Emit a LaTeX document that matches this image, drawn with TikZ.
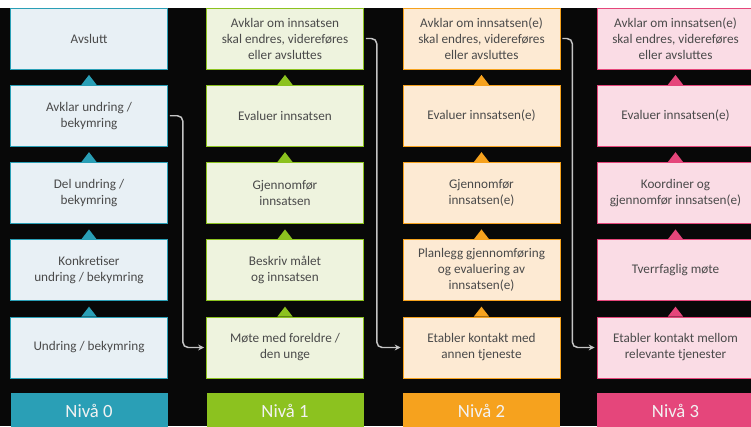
\documentclass[tikz,border=0pt]{standalone}
\usepackage{fontspec}
\setmainfont{Carlito}
\usetikzlibrary{arrows.meta}
\definecolor{colA}{HTML}{2A9FB6}
\definecolor{colB}{HTML}{8CC21F}
\definecolor{colC}{HTML}{F6A21E}
\definecolor{colD}{HTML}{E5467B}
\definecolor{fillA}{HTML}{E8F0F5}
\definecolor{fillB}{HTML}{EEF3DE}
\definecolor{fillC}{HTML}{FDEAD3}
\definecolor{fillD}{HTML}{FADCE5}
\definecolor{txt}{HTML}{4A4A4A}
\definecolor{linkc}{HTML}{C4C4C4}
\definecolor{bg}{HTML}{080808}
\begin{document}
\begin{tikzpicture}[x=0.75pt,y=-0.75pt,
  box/.style={rectangle, inner sep=1pt, minimum width=117.75pt, minimum height=45.75pt,
    align=center, text=txt, font=\fontsize{9.9}{12}\selectfont, line width=0.5pt},
  cellA/.style={box, fill=fillA, draw=colA},
  cellB/.style={box, fill=fillB, draw=colB},
  cellC/.style={box, fill=fillC, draw=colC},
  cellD/.style={box, fill=fillD, draw=colD},
  lbl/.style={rectangle, inner sep=0pt, minimum width=117.75pt, minimum height=26.25pt,
    font=\fontsize{14}{16}\selectfont, text=white!90!gray},
  link/.style={draw=linkc, line width=1.1pt, rounded corners=4pt, shorten >=1.5pt, shorten <=1.5pt,
    -{Stealth[length=4.5pt,width=4.5pt]}}
]
\useasboundingbox (0,0) rectangle (751,426);
\fill[white] (0,0) rectangle (751,426);
\fill[bg] (0,8) rectangle (751,426);

% column 0
\node[cellA] (c0r1) at (89,38.5) {Avslutt};
\node[cellA] (c0r2) at (89,115.75) {Avklar undring /\\bekymring};
\node[cellA] (c0r3) at (89,193) {Del undring /\\bekymring};
\node[cellA] (c0r4) at (89,270.25) {Konkretiser\\undring / bekymring};
\node[cellA] (c0r5) at (89,347.5) {Undring / bekymring};
\node[lbl, fill=colA] (l0) at (89,410.5) {Nivå 0};

% column 1
\node[cellB] (c1r1) at (285,38.5) {Avklar om innsatsen\\skal endres, videreføres\\eller avsluttes};
\node[cellB] (c1r2) at (285,115.75) {Evaluer innsatsen};
\node[cellB] (c1r3) at (285,193) {Gjennomfør\\innsatsen};
\node[cellB] (c1r4) at (285,270.25) {Beskriv målet\\og innsatsen};
\node[cellB] (c1r5) at (285,347.5) {Møte med foreldre /\\den unge};
\node[lbl, fill=colB] (l1) at (285,410.5) {Nivå 1};

% column 2
\node[cellC] (c2r1) at (481.5,38.5) {Avklar om innsatsen(e)\\skal endres, videreføres\\eller avsluttes};
\node[cellC] (c2r2) at (481.5,115.75) {Evaluer innsatsen(e)};
\node[cellC] (c2r3) at (481.5,193) {Gjennomfør\\innsatsen(e)};
\node[cellC] (c2r4) at (481.5,270.25) {Planlegg gjennomføring\\og evaluering av\\innsatsen(e)};
\node[cellC] (c2r5) at (481.5,347.5) {Etabler kontakt med\\annen tjeneste};
\node[lbl, fill=colC] (l2) at (481.5,410.5) {Nivå 2};

% column 3
\node[cellD] (c3r1) at (675.5,38.5) {Avklar om innsatsen(e)\\skal endres, videreføres\\eller avsluttes};
\node[cellD] (c3r2) at (675.5,115.75) {Evaluer innsatsen(e)};
\node[cellD] (c3r3) at (675.5,193) {Koordiner og\\gjennomfør innsatsen(e)};
\node[cellD] (c3r4) at (675.5,270.25) {Tverrfaglig møte};
\node[cellD] (c3r5) at (675.5,347.5) {Etabler kontakt mellom\\relevante tjenester};
\node[lbl, fill=colD] (l3) at (675.5,410.5) {Nivå 3};

% triangles (pointing up, on top edge of boxes in rows 2-5)
\foreach \n/\c in {c0r2/colA,c0r3/colA,c0r4/colA,c0r5/colA,
                   c1r2/colB,c1r3/colB,c1r4/colB,c1r5/colB,
                   c2r2/colC,c2r3/colC,c2r4/colC,c2r5/colC,
                   c3r2/colD,c3r3/colD,c3r4/colD,c3r5/colD}{
  \fill[\c] ([xshift=-5.8pt]\n.north) -- ([yshift=7.5pt]\n.north) -- ([xshift=5.8pt]\n.north) -- cycle;
}

% connectors
\draw[link] (c0r2.east) -- ++(15,0) |- (c1r5.west);
\draw[link] (c1r1.east) -- ++(13,0) |- (c2r5.west);
\draw[link] (c2r1.east) -- ++(12,0) |- (c3r5.west);
\end{tikzpicture}
\end{document}
